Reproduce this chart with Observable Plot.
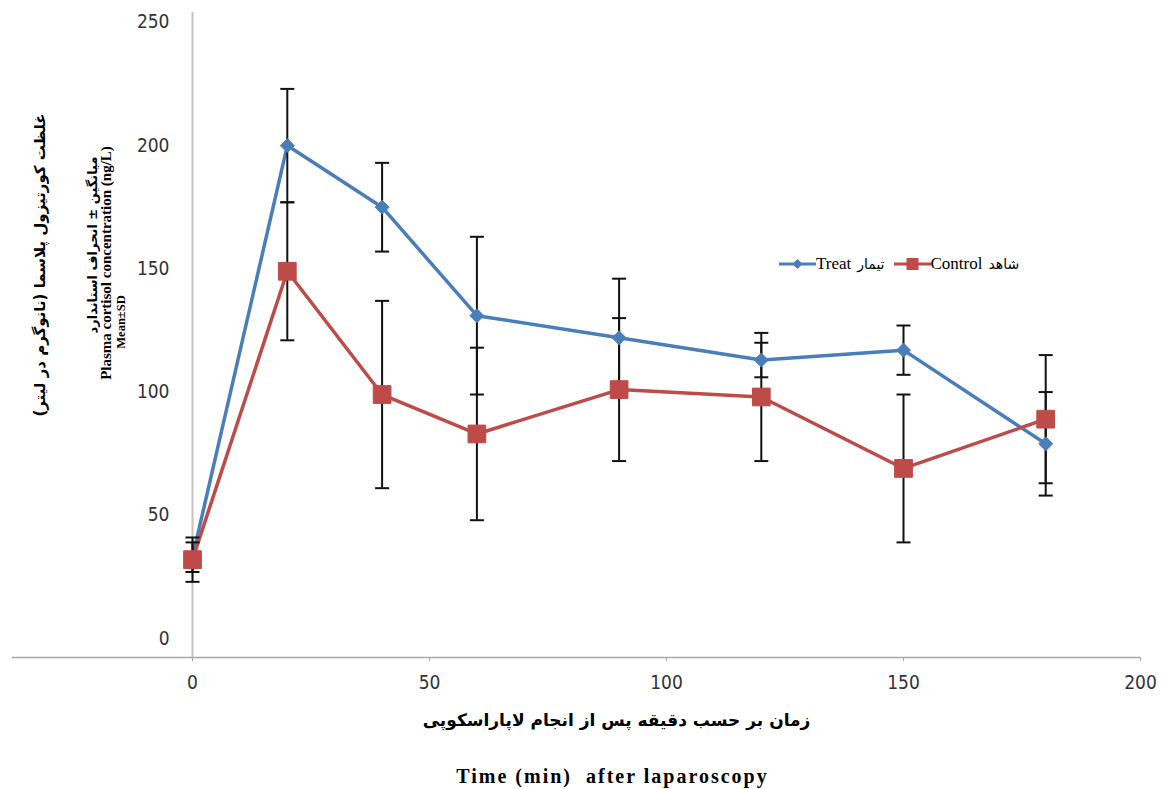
<!DOCTYPE html>
<html><head><meta charset="utf-8">
<script src="https://cdn.jsdelivr.net/npm/d3@7"></script>
<script src="https://cdn.jsdelivr.net/npm/@observablehq/plot@0.6"></script>
<style>
body{margin:0;background:#fff;}
#wrap{position:relative;width:1171px;height:789px;}
#legend{position:absolute;left:779px;top:254px;font:17px "Liberation Serif",serif;display:flex;align-items:center;white-space:nowrap;color:#000}
#legend svg{display:block}
#legend .fa{font-family:"DejaVu Sans",sans-serif;font-size:14px;margin:0 9px 0 6px}
</style></head><body><div id="wrap"><div id="legend"></div></div>
<script>
const times = [0, 20, 40, 60, 90, 120, 150, 180];
const treatMean = [33, 200, 175, 131, 122, 113, 117, 79];
const treatSD = [6, 23, 18, 32, 24, 7, 10, 21];
const controlMean = [32, 149, 99, 83, 101, 98, 69, 89];
const controlSD = [9, 28, 38, 35, 29, 26, 30, 26];
const xTicks = [0, 50, 100, 150, 200];
const yTicks = [0, 50, 100, 150, 200, 250];
const seriesNames = ["Treat", "Control"];
const seriesFa = ["تیمار", "شاهد"];
const colors = ["#4a7ebb", "#be4b48"];
const yTitleFa1 = "غلظت کورتیزول پلاسما (نانوگرم در لیتر)";
const yTitleFa2 = "میانگین ± انحراف استاندارد";
const yTitleEn1 = "Plasma cortisol concentration (ng/L)";
const yTitleEn2 = "Mean±SD";
const xTitleFa = "زمان بر حسب دقیقه پس از انجام لاپاراسکوپی";
const xTitleEn = "Time (min)  after laparoscopy";

const treat = times.map((t, i) => ({t, mean: treatMean[i], lo: treatMean[i] - treatSD[i], hi: treatMean[i] + treatSD[i]}));
const control = times.map((t, i) => ({t, mean: controlMean[i], lo: controlMean[i] - controlSD[i], hi: controlMean[i] + controlSD[i]}));
const cap = {draw(ctx) { ctx.moveTo(-7, 0); ctx.lineTo(7, 0); }};
const yMin = -7.7, yMax = 254;
const tickFont = '"Liberation Sans Narrow","DejaVu Sans Condensed","Liberation Sans",sans-serif';

function errMarks(d) {
  return [
    Plot.ruleX(d, {x: "t", y1: "lo", y2: "hi", stroke: "#111", strokeWidth: 2}),
    Plot.dot(d, {x: "t", y: "lo", symbol: cap, stroke: "#111", strokeWidth: 2, r: 5}),
    Plot.dot(d, {x: "t", y: "hi", symbol: cap, stroke: "#111", strokeWidth: 2, r: 5})
  ];
}
const titleOpts = {textAnchor: "middle", lineAnchor: "middle", fontWeight: "bold", fill: "#000"};

const plot = Plot.plot({
  width: 1171, height: 789,
  marginLeft: 192, marginRight: 31, marginTop: 12, marginBottom: 132,
  x: {domain: [0, 200]},
  y: {domain: [yMin, yMax]},
  style: {background: "white", fontFamily: tickFont},
  marks: [
    Plot.ruleY([yMin], {x1: -38, x2: 200, stroke: "#a8a8a8", strokeWidth: 1.5}),
    Plot.ruleX([0], {y1: yMin, y2: yMax, stroke: "#c4c4c4", strokeWidth: 2}),
    Plot.axisX({ticks: xTicks, tickSize: 4, tickPadding: 14, fontSize: 19, label: null, stroke: "#a8a8a8", fill: "#333"}),
    Plot.axisY({ticks: yTicks, tickSize: 0, tickPadding: 23, fontSize: 19, label: null, fill: "#333"}),
    Plot.line(treat, {x: "t", y: "mean", stroke: colors[0], strokeWidth: 3.5}),
    Plot.line(control, {x: "t", y: "mean", stroke: colors[1], strokeWidth: 3.5}),
    ...errMarks(treat),
    ...errMarks(control),
    Plot.dot(treat, {x: "t", y: "mean", symbol: "diamond2", r: 6.3, fill: colors[0], stroke: colors[0], strokeWidth: 1}),
    Plot.dot(control, {x: "t", y: "mean", symbol: "square", r: 10, fill: colors[1], stroke: colors[1], strokeWidth: 1}),
    Plot.text([xTitleFa], {...titleOpts, frameAnchor: "bottom", dx: -50, dy: 63, fontSize: 17, fontFamily: "DejaVu Sans"}),
    Plot.text([xTitleEn], {...titleOpts, frameAnchor: "bottom", dx: -54, dy: 119, fontSize: 20, fontFamily: "Liberation Serif"}),
    Plot.text([yTitleFa1], {...titleOpts, frameAnchor: "left", dx: -152, dy: -70, rotate: -90, fontSize: 15, fontFamily: "DejaVu Sans"}),
    Plot.text([yTitleFa2], {...titleOpts, frameAnchor: "left", dx: -100, dy: -90, rotate: -90, fontSize: 13, fontFamily: "DejaVu Sans"}),
    Plot.text([yTitleEn1], {...titleOpts, frameAnchor: "left", dx: -86, dy: -72, rotate: -90, fontSize: 15, fontFamily: "Liberation Serif"}),
    Plot.text([yTitleEn2], {...titleOpts, frameAnchor: "left", dx: -72, dy: -13, rotate: -90, fontSize: 12.5, fontFamily: "Liberation Serif"})
  ]
});
document.getElementById("wrap").prepend(plot);
d3.select(plot).selectAll("text").filter(function() { return this.textContent === xTitleEn; }).style("letter-spacing", "2px");

const legend = d3.select("#legend");
seriesNames.forEach((name, i) => {
  const s = legend.append("svg").attr("width", 37).attr("height", 16);
  s.append("line").attr("x1", 0).attr("x2", 37).attr("y1", 8).attr("y2", 8).attr("stroke", colors[i]).attr("stroke-width", 3);
  if (i === 0) s.append("path").attr("d", "M18.5,3L23.5,8L18.5,13L13.5,8Z").attr("fill", colors[i]);
  else s.append("rect").attr("x", 12.5).attr("y", 2).attr("width", 12).attr("height", 12).attr("fill", colors[i]);
  legend.append("span").text(name);
  legend.append("span").attr("class", "fa").text(seriesFa[i]);
});
</script>
</body></html>
